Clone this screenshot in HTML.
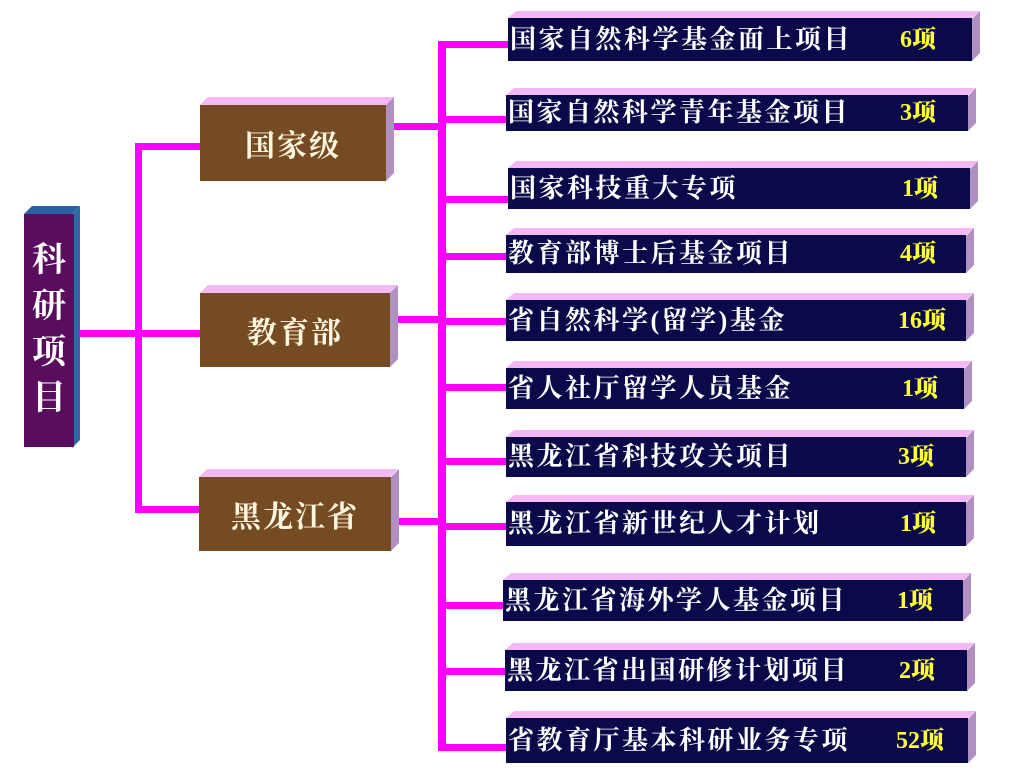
<!DOCTYPE html>
<html><head><meta charset="utf-8"><style>
body{margin:0;width:1024px;height:779px;background:#fff;position:relative;overflow:hidden;font-family:"Liberation Serif","Noto Serif CJK SC","Noto Sans CJK SC",serif}
.l{position:absolute;background:#ff00ff}
.f{position:absolute;color:#fff;font-weight:bold;box-sizing:border-box}
.t{position:absolute;clip-path:polygon(8px 0,100% 0,calc(100% - 8px) 100%,0 100%)}
.s{position:absolute;clip-path:polygon(0 8px,100% 0,100% calc(100% - 8px),0 100%)}
.r{background:#0a0a4a;font-size:26px;line-height:1;display:flex;align-items:center;padding-left:2px;font-family:"Liberation Serif","Noto Serif CJK SC",serif;letter-spacing:2.5px;white-space:nowrap}
.r b{position:absolute;color:#ffff33;letter-spacing:0;font-size:24px}
.m{background:#744b22;font-size:30px;display:flex;align-items:center;justify-content:center;color:#fff6e0;letter-spacing:2px}
</style></head><body>
<div class="l" style="left:80px;top:330px;width:122px;height:7px"></div>
<div class="l" style="left:135px;top:143px;width:7px;height:370px"></div>
<div class="l" style="left:135px;top:143px;width:66px;height:7px"></div>
<div class="l" style="left:135px;top:506px;width:66px;height:7px"></div>
<div class="l" style="left:438px;top:41px;width:8px;height:710px"></div>
<div class="l" style="left:392px;top:123px;width:50px;height:7px"></div>
<div class="l" style="left:395px;top:316px;width:50px;height:7px"></div>
<div class="l" style="left:395px;top:518px;width:50px;height:7px"></div>
<div class="l" style="left:438px;top:41px;width:72px;height:7px"></div>
<div class="l" style="left:438px;top:116px;width:70px;height:7px"></div>
<div class="l" style="left:438px;top:196px;width:70px;height:7px"></div>
<div class="l" style="left:438px;top:253px;width:70px;height:7px"></div>
<div class="l" style="left:438px;top:318px;width:70px;height:7px"></div>
<div class="l" style="left:438px;top:384px;width:70px;height:7px"></div>
<div class="l" style="left:438px;top:458px;width:70px;height:7px"></div>
<div class="l" style="left:438px;top:523px;width:70px;height:7px"></div>
<div class="l" style="left:438px;top:602px;width:70px;height:7px"></div>
<div class="l" style="left:438px;top:668px;width:70px;height:7px"></div>
<div class="l" style="left:438px;top:744px;width:70px;height:7px"></div>

<div class="t" style="left:24px;top:206px;width:56px;height:8px;background:#2a5fa0"></div>
<div class="s" style="left:72px;top:206px;width:8px;height:242px;background:#2a6aaa"></div>
<div class="f" style="left:24px;top:214px;width:50px;height:233px;background:#5a0c5e;font-size:34px;line-height:46px;text-align:center;padding-top:24px">科<br>研<br>项<br>目</div>

<div class="t" style="left:200px;top:97px;width:194px;height:8px;background:#f4b8f4"></div>
<div class="s" style="left:386px;top:97px;width:8px;height:84px;background:#b090c0"></div>
<div class="f m" style="left:200px;top:105px;width:186px;height:76px">国家级</div>
<div class="t" style="left:200px;top:285px;width:198px;height:8px;background:#f4b8f4"></div>
<div class="s" style="left:390px;top:285px;width:8px;height:82px;background:#b090c0"></div>
<div class="f m" style="left:200px;top:293px;width:190px;height:74px">教育部</div>
<div class="t" style="left:199px;top:469px;width:199px;height:8px;background:#f4b8f4"></div>
<div class="s" style="left:391px;top:469px;width:8px;height:82px;background:#b090c0"></div>
<div class="f m" style="left:199px;top:477px;width:192px;height:74px">黑龙江省</div>

<div class="t" style="left:508px;top:11px;width:472px;height:7px;background:#f4b8f4"></div><div class="s" style="left:972px;top:11px;width:8px;height:50px;background:#b090c0"></div>
<div class="f r" style="left:508px;top:18px;width:464px;height:43px">国家自然科学基金面上项目<b style="left:392px">6项</b></div>
<div class="t" style="left:506px;top:88px;width:470px;height:7px;background:#f4b8f4"></div><div class="s" style="left:968px;top:88px;width:8px;height:43px;background:#b090c0"></div>
<div class="f r" style="left:506px;top:95px;width:462px;height:36px">国家自然科学青年基金项目<b style="left:394px">3项</b></div>
<div class="t" style="left:508px;top:161px;width:470px;height:7px;background:#f4b8f4"></div><div class="s" style="left:970px;top:161px;width:8px;height:48px;background:#b090c0"></div>
<div class="f r" style="left:508px;top:168px;width:462px;height:41px">国家科技重大专项<b style="left:394px">1项</b></div>
<div class="t" style="left:506px;top:228px;width:468px;height:7px;background:#f4b8f4"></div><div class="s" style="left:966px;top:228px;width:8px;height:45px;background:#b090c0"></div>
<div class="f r" style="left:506px;top:235px;width:460px;height:38px">教育部博士后基金项目<b style="left:394px">4项</b></div>
<div class="t" style="left:506px;top:293px;width:468px;height:7px;background:#f4b8f4"></div><div class="s" style="left:966px;top:293px;width:8px;height:48px;background:#b090c0"></div>
<div class="f r" style="left:506px;top:300px;width:460px;height:41px">省自然科学(留学)基金<b style="left:392px">16项</b></div>
<div class="t" style="left:506px;top:361px;width:466px;height:7px;background:#f4b8f4"></div><div class="s" style="left:964px;top:361px;width:8px;height:48px;background:#b090c0"></div>
<div class="f r" style="left:506px;top:368px;width:458px;height:41px">省人社厅留学人员基金<b style="left:396px">1项</b></div>
<div class="t" style="left:506px;top:430px;width:468px;height:7px;background:#f4b8f4"></div><div class="s" style="left:966px;top:430px;width:8px;height:47px;background:#b090c0"></div>
<div class="f r" style="left:506px;top:437px;width:460px;height:40px">黑龙江省科技攻关项目<b style="left:392px">3项</b></div>
<div class="t" style="left:506px;top:495px;width:468px;height:7px;background:#f4b8f4"></div><div class="s" style="left:966px;top:495px;width:8px;height:51px;background:#b090c0"></div>
<div class="f r" style="left:506px;top:502px;width:460px;height:44px">黑龙江省新世纪人才计划<b style="left:394px">1项</b></div>
<div class="t" style="left:503px;top:573px;width:468px;height:7px;background:#f4b8f4"></div><div class="s" style="left:963px;top:573px;width:8px;height:48px;background:#b090c0"></div>
<div class="f r" style="left:503px;top:580px;width:460px;height:41px">黑龙江省海外学人基金项目<b style="left:394px">1项</b></div>
<div class="t" style="left:505px;top:643px;width:470px;height:7px;background:#f4b8f4"></div><div class="s" style="left:967px;top:643px;width:8px;height:48px;background:#b090c0"></div>
<div class="f r" style="left:505px;top:650px;width:462px;height:41px">黑龙江省出国研修计划项目<b style="left:394px">2项</b></div>
<div class="t" style="left:506px;top:711px;width:470px;height:7px;background:#f4b8f4"></div><div class="s" style="left:968px;top:711px;width:8px;height:52px;background:#b090c0"></div>
<div class="f r" style="left:506px;top:718px;width:462px;height:45px">省教育厅基本科研业务专项<b style="left:390px">52项</b></div>
</body></html>
